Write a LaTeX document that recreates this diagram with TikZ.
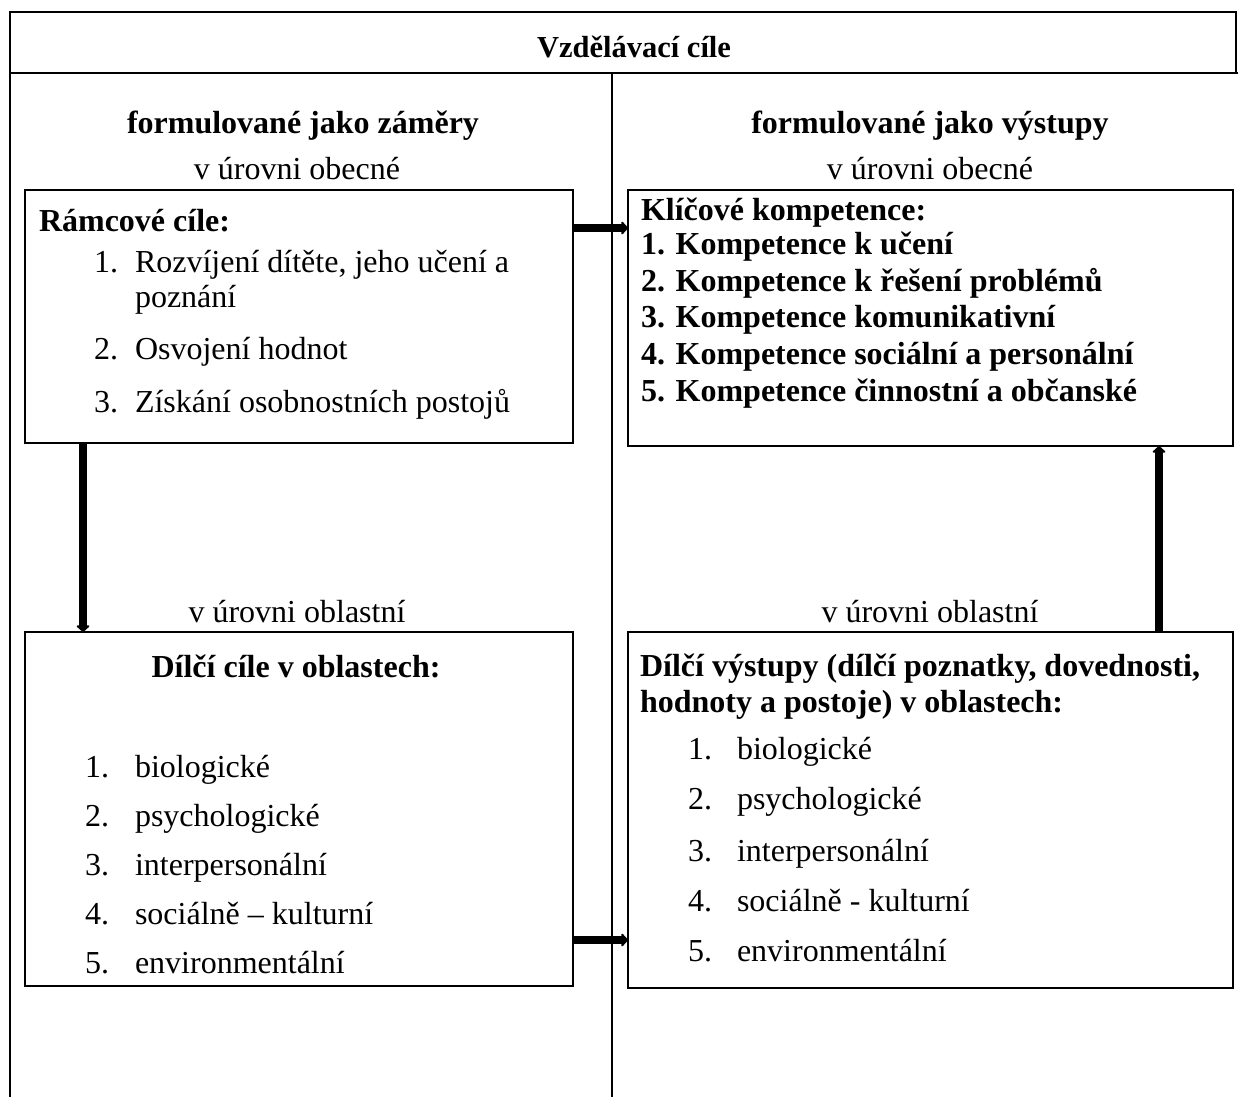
\documentclass[tikz,border=0pt]{standalone}
\usepackage{fontspec}
\setmainfont{Liberation Serif}
\usetikzlibrary{arrows.meta,calc}
\begin{document}
\begin{tikzpicture}[x=1pt,y=-1pt,
  txt/.style={inner sep=0pt,outer sep=0pt,font=\fontsize{32}{37}\selectfont},
  btxt/.style={txt,font=\fontsize{32}{37}\selectfont\bfseries},
  lt/.style={txt,anchor=base west},
  blt/.style={btxt,anchor=base west},
  ct/.style={txt,anchor=base},
  bct/.style={btxt,anchor=base},
  box/.style={draw,line width=2pt,inner sep=0pt,outer sep=0pt,anchor=north west},
  frame/.style={line width=2pt},
  arr/.style={line width=8.5pt,-{Triangle[round,length=7pt,width=15pt]}}]
\useasboundingbox (0,0) rectangle (1238,1097);
% table frame
\draw[frame] (10,1097) -- (10,12) -- (1236,12) -- (1236,73);
\draw[frame] (10,73) -- (1238,73);
\draw[line width=1.5pt] (612,73) -- (612,1097);
% header
\node[bct,font=\fontsize{30.5}{35}\selectfont\bfseries] (title) at (634,58) {Vzdělávací cíle};
\node[bct] (hl) at (303,133) {formulované jako záměry};
\node[bct] (hr) at (930,133) {formulované jako výstupy};
\node[ct] (ol1) at (297,179) {v úrovni obecné};
\node[ct] (or1) at (930,179) {v úrovni obecné};
\node[ct] (ol2) at (297,622) {v úrovni oblastní};
\node[ct] (or2) at (930,622) {v úrovni oblastní};
% boxes
\node[box,minimum width=548pt,minimum height=253pt] (ramec) at (25,190) {};
\node[box,minimum width=605pt,minimum height=256pt] (klic) at (628,190) {};
\node[box,minimum width=548pt,minimum height=354pt] (dilci) at (25,632) {};
\node[box,minimum width=605pt,minimum height=356pt] (vystup) at (628,632) {};
% Rámcové cíle
\node[blt] (r0) at (39,231) {Rámcové cíle:};
\node[lt] (r1n) at (94,272) {1.};
\node[lt] (r1) at (135,272) {Rozvíjení dítěte, jeho učení a};
\node[lt] (r1b) at (135,307) {poznání};
\node[lt] (r2n) at (94,359) {2.};
\node[lt] (r2) at (135,359) {Osvojení hodnot};
\node[lt] (r3n) at (94,412) {3.};
\node[lt] (r3) at (135,412) {Získání osobnostních postojů};
% Klíčové kompetence
\node[blt] (k0) at (641,220) {Klíčové kompetence:};
\node[blt] (k1) at (641,254) {1. Kompetence k učení};
\node[blt] (k2) at (641,291) {2. Kompetence k řešení problémů};
\node[blt] (k3) at (641,327) {3. Kompetence komunikativní};
\node[blt] (k4) at (641,364) {4. Kompetence sociální a personální};
\node[blt] (k5) at (641,401) {5. Kompetence činnostní a občanské};
% Dílčí cíle
\node[bct] (d0) at (296,677) {Dílčí cíle v oblastech:};
\node[lt] (d1n) at (85,777) {1.};
\node[lt] (d1) at (135,777) {biologické};
\node[lt] (d2n) at (85,826) {2.};
\node[lt] (d2) at (135,826) {psychologické};
\node[lt] (d3n) at (85,875) {3.};
\node[lt] (d3) at (135,875) {interpersonální};
\node[lt] (d4n) at (85,924) {4.};
\node[lt] (d4) at (135,924) {sociálně – kulturní};
\node[lt] (d5n) at (85,973) {5.};
\node[lt] (d5) at (135,973) {environmentální};
% Dílčí výstupy
\node[blt] (v0) at (640,676) {Dílčí výstupy (dílčí poznatky, dovednosti,};
\node[blt] (v0b) at (640,712) {hodnoty a postoje) v oblastech:};
\node[lt] (v1n) at (688,759) {1.};
\node[lt] (v1) at (737,759) {biologické};
\node[lt] (v2n) at (688,809) {2.};
\node[lt] (v2) at (737,809) {psychologické};
\node[lt] (v3n) at (688,861) {3.};
\node[lt] (v3) at (737,861) {interpersonální};
\node[lt] (v4n) at (688,911) {4.};
\node[lt] (v4) at (737,911) {sociálně - kulturní};
\node[lt] (v5n) at (688,961) {5.};
\node[lt] (v5) at (737,961) {environmentální};
% arrows
\draw[arr] ([yshift=-38pt]ramec.north east) -- ([yshift=-38pt]klic.north west);
\draw[arr] ([xshift=58pt]ramec.south west) -- ([xshift=58pt]dilci.north west);
\draw[arr] ([xshift=-74pt]vystup.north east) -- ([xshift=-74pt]klic.south east);
\coordinate (bs) at ([yshift=46pt]dilci.south east);
\draw[arr] (bs) -- (bs -| vystup.west);
\end{tikzpicture}
\end{document}
